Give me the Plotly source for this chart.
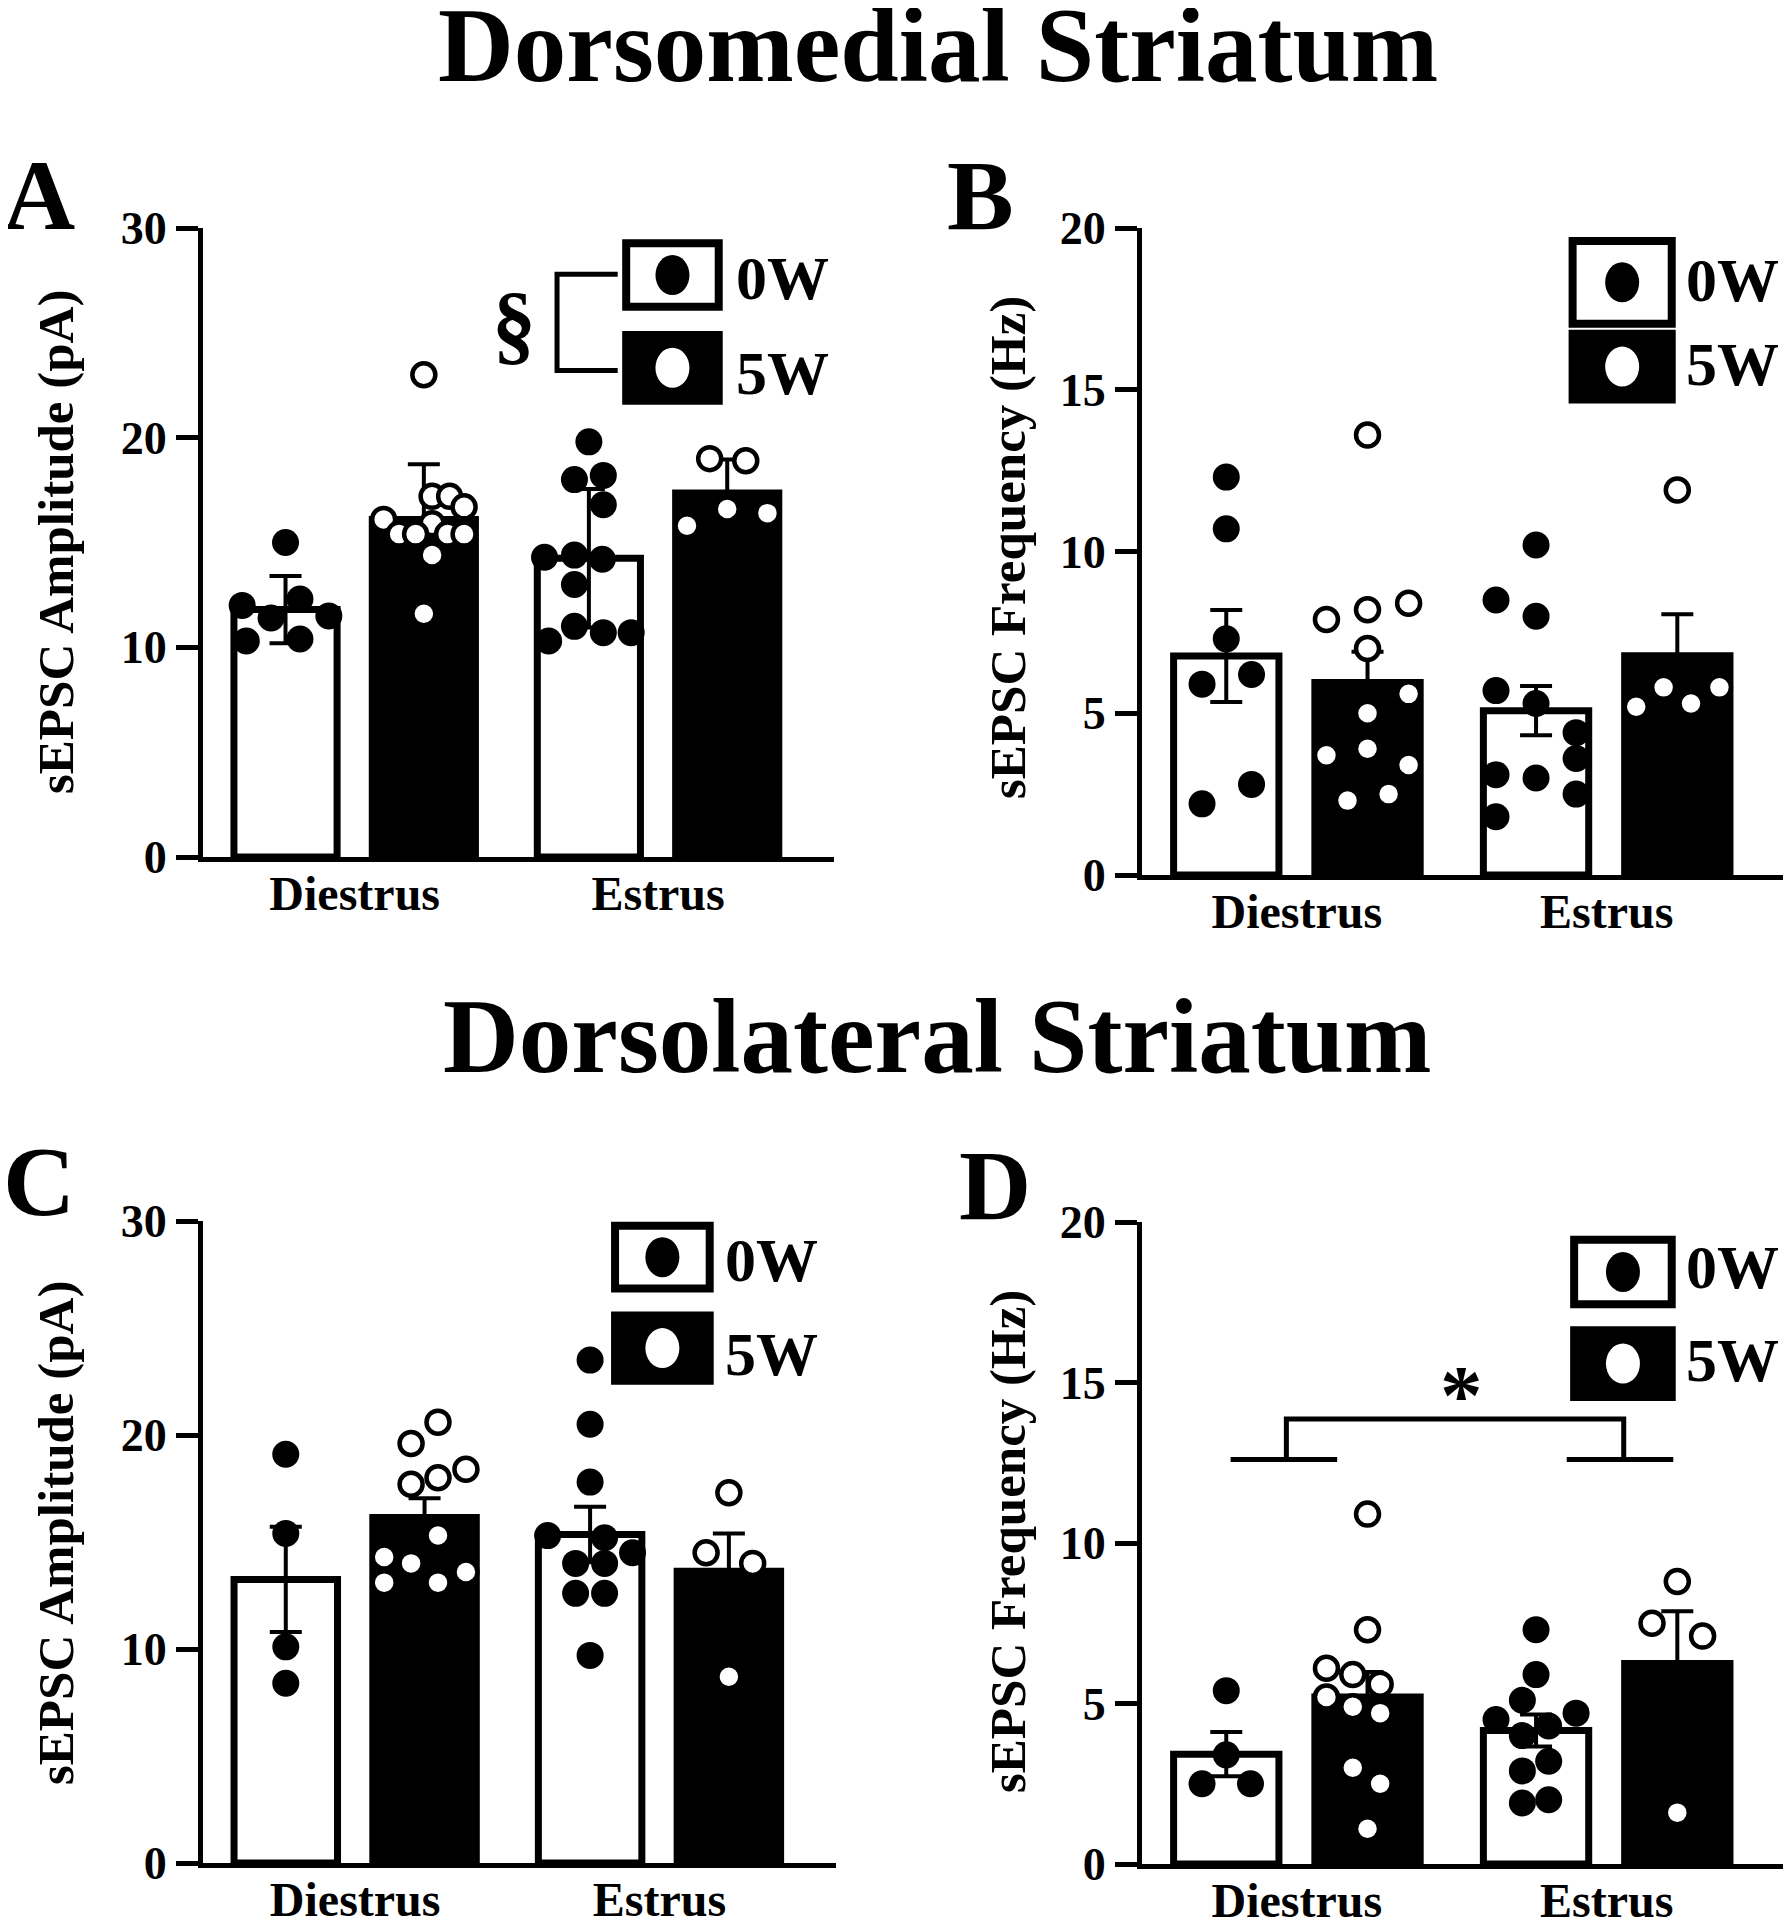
import plotly.graph_objects as go

W, H = 1791, 1920
OX, OY = 8, 8   # the page body margin shifts the figure by this much
FONT = "Liberation Serif, Times New Roman, serif"

groups = ["Diestrus", "Estrus"]

# bar means and error bars, order = [Diestrus, Estrus]
a_mean_0w = [11.8, 14.25]
a_err_0w = [1.6, 3.3]
a_mean_5w = [16.1, 17.36]
a_err_5w = [2.63, 1.6]

b_mean_0w = [6.77, 5.08]
b_err_0w = [1.42, 0.76]
b_mean_5w = [5.95, 6.78]
b_err_5w = [0.95, 1.28]

c_mean_0w = [13.25, 15.35]
c_err_0w = [2.46, 1.3]
c_mean_5w = [16.15, 13.63]
c_err_5w = [0.9, 1.77]

d_mean_0w = [3.42, 4.16]
d_err_0w = [0.69, 0.5]
d_mean_5w = [5.2, 6.25]
d_err_5w = [0.78, 1.62]

# individual cells
a_dies_0w = [15.0, 12.0, 12.3, 11.5, 11.4, 10.3, 10.4]
a_dies_5w = [23.0, 17.2, 17.2, 16.7, 16.1, 15.9, 15.4, 15.4, 15.4, 15.4, 14.4, 11.6]
a_estr_0w = [19.8, 18.0, 18.2, 16.8, 14.3, 14.4, 14.2, 13.0, 10.3, 11.0, 10.7, 10.7]
a_estr_5w = [19.0, 18.9, 15.8, 16.6, 16.4]

b_dies_0w = [12.3, 10.7, 7.3, 5.9, 6.2, 2.8, 2.2]
b_dies_5w = [13.6, 7.9, 8.2, 8.4, 7.0, 5.6, 5.0, 3.7, 3.9, 3.4, 2.3, 2.5]
b_estr_0w = [10.2, 8.5, 8.0, 5.7, 5.3, 3.0, 3.1, 1.8, 4.4, 3.6, 2.5]
b_estr_5w = [11.9, 5.2, 5.8, 5.3, 5.8]

c_dies_0w = [19.1, 15.4, 10.1, 8.4]
c_dies_5w = [20.6, 19.6, 18.4, 18.0, 17.7, 15.3, 14.3, 14.0, 13.6, 13.1, 13.1]
c_estr_0w = [23.5, 20.5, 17.8, 15.3, 15.2, 14.5, 14.0, 14.0, 12.6, 12.6, 9.7]
c_estr_5w = [17.3, 14.5, 14.0, 8.7]

d_dies_0w = [5.4, 3.4, 2.5, 2.5]
d_dies_5w = [10.9, 7.3, 6.1, 5.9, 5.6, 5.2, 4.9, 4.7, 3.0, 2.5, 1.1]
d_estr_0w = [7.3, 5.9, 5.1, 4.7, 4.5, 4.3, 4.0, 3.2, 2.9, 1.9, 2.0]
d_estr_5w = [8.8, 7.5, 7.1, 1.6]

# horizontal scatter of the dots inside each bar (fraction of bar width)
a_dies_0w_dx = [0, -0.42, 0.14, 0.42, -0.14, -0.38, 0.14]
a_dies_5w_dx = [0, 0.08, 0.25, 0.39, -0.39, 0.08, -0.24, -0.08, 0.23, 0.39, 0.08, 0]
a_estr_0w_dx = [0, -0.14, 0.14, 0.14, -0.43, -0.14, 0.13, -0.14, -0.39, -0.14, 0.14, 0.41]
a_estr_5w_dx = [-0.17, 0.18, -0.39, 0, 0.39]

b_dies_0w_dx = [0, 0, 0, -0.23, 0.24, 0.24, -0.23]
b_dies_5w_dx = [0, -0.39, 0, 0.39, 0, 0.39, 0, -0.39, 0, 0.39, -0.19, 0.2]
b_estr_0w_dx = [0, -0.38, 0, -0.38, 0, 0, -0.38, -0.38, 0.38, 0.38, 0.38]
b_estr_5w_dx = [0, -0.39, -0.13, 0.13, 0.4]

c_dies_0w_dx = [0, 0, 0, 0]
c_dies_5w_dx = [0.13, -0.13, 0.4, 0.13, -0.13, 0.13, -0.39, -0.13, 0.4, -0.39, 0.13]
c_estr_0w_dx = [0, 0, 0, -0.41, 0.14, 0.41, -0.14, 0.14, -0.14, 0.14, 0]
c_estr_5w_dx = [0, -0.22, 0.23, 0]

d_dies_0w_dx = [0, 0, -0.23, 0.23]
d_dies_5w_dx = [0, 0, -0.39, -0.14, 0.12, -0.39, -0.14, 0.12, -0.14, 0.12, 0]
d_estr_0w_dx = [0, 0, -0.13, 0.38, -0.38, 0.12, -0.13, 0.12, -0.13, -0.13, 0.12]
d_estr_5w_dx = [0, -0.24, 0.24, 0]

OFF = 0.228   # half distance between the two bars of a group
BW = 0.34     # bar width


def px(x):
    return (x - OX) / W


def py(y):
    return 1 - (y - OY) / H


fig = go.Figure()


def add_panel(n, m0, e0, m5, e5, p0, dx0, p5, dx5):
    xa = "x" if n == 1 else "x%d" % n
    ya = "y" if n == 1 else "y%d" % n
    fig.add_trace(go.Bar(
        x=[i - OFF for i in range(len(groups))], y=m0, width=BW,
        marker=dict(color="white", line=dict(color="black", width=7)),
        error_y=dict(type="data", array=e0, color="black", thickness=4, width=16),
        xaxis=xa, yaxis=ya, showlegend=False))
    fig.add_trace(go.Bar(
        x=[i + OFF for i in range(len(groups))], y=m5, width=BW,
        marker=dict(color="black", line=dict(color="black", width=7)),
        error_y=dict(type="data", array=e5, color="black", thickness=4, width=16),
        xaxis=xa, yaxis=ya, showlegend=False))
    xs0, ys0, xs5, ys5 = [], [], [], []
    for i in range(len(groups)):
        xs0 += [i - OFF + d * BW for d in dx0[i]]
        ys0 += p0[i]
        xs5 += [i + OFF + d * BW for d in dx5[i]]
        ys5 += p5[i]
    fig.add_trace(go.Scatter(
        x=xs0, y=ys0, mode="markers",
        marker=dict(color="black", size=27, line=dict(width=0)),
        xaxis=xa, yaxis=ya, showlegend=False))
    fig.add_trace(go.Scatter(
        x=xs5, y=ys5, mode="markers",
        marker=dict(color="white", size=23, line=dict(color="black", width=4.5)),
        xaxis=xa, yaxis=ya, showlegend=False))


add_panel(1, a_mean_0w, a_err_0w, a_mean_5w, a_err_5w,
          [a_dies_0w, a_estr_0w], [a_dies_0w_dx, a_estr_0w_dx],
          [a_dies_5w, a_estr_5w], [a_dies_5w_dx, a_estr_5w_dx])
add_panel(2, b_mean_0w, b_err_0w, b_mean_5w, b_err_5w,
          [b_dies_0w, b_estr_0w], [b_dies_0w_dx, b_estr_0w_dx],
          [b_dies_5w, b_estr_5w], [b_dies_5w_dx, b_estr_5w_dx])
add_panel(3, c_mean_0w, c_err_0w, c_mean_5w, c_err_5w,
          [c_dies_0w, c_estr_0w], [c_dies_0w_dx, c_estr_0w_dx],
          [c_dies_5w, c_estr_5w], [c_dies_5w_dx, c_estr_5w_dx])
add_panel(4, d_mean_0w, d_err_0w, d_mean_5w, d_err_5w,
          [d_dies_0w, d_estr_0w], [d_dies_0w_dx, d_estr_0w_dx],
          [d_dies_5w, d_estr_5w], [d_dies_5w_dx, d_estr_5w_dx])

# axes: (x domain px, y domain px top/bottom, x range end, y max, y step), page pixels
panels = [
    (1, (203, 834), (228, 857), 1.58, 30, 10),
    (2, (1142, 1791), (228, 875), 1.595, 20, 5),
    (3, (203, 836), (1221, 1863), 1.58, 30, 10),
    (4, (1142, 1791), (1222, 1864), 1.595, 20, 5),
]
axes = {}
for n, (x0, x1), (yt, yb), xend, ymax, step in panels:
    sfx = "" if n == 1 else str(n)
    axes["xaxis" + sfx] = dict(
        domain=[px(x0), min(px(x1), 1)], range=[-0.5, xend], anchor="y" + sfx,
        tickvals=list(range(len(groups))), ticktext=groups, ticks="",
        showline=True, linewidth=5, linecolor="black", showgrid=False, zeroline=False,
        automargin=False,
        tickfont=dict(family=FONT, size=48, color="black", weight="bold"),
        ticklabelstandoff=-10)
    axes["yaxis" + sfx] = dict(
        domain=[py(yb), py(yt)], range=[0, ymax], anchor="x" + sfx,
        tickvals=list(range(0, ymax + 1, step)), ticks="outside", ticklen=22,
        tickwidth=5, tickcolor="black", showline=True, linewidth=5, linecolor="black",
        showgrid=False, zeroline=False, automargin=False,
        tickfont=dict(family=FONT, size=46, color="black", weight="bold"))

shapes = []
annotations = []


def text(x, y, s, size, xref="paper", yref="paper", xanchor="center", angle=0):
    annotations.append(dict(
        x=x, y=y, xref=xref, yref=yref, text=s, showarrow=False, textangle=angle,
        xanchor=xanchor, yanchor="middle",
        font=dict(family=FONT, size=size, color="black", weight="bold")))


# legends, in each panel's data coordinates
legends = [
    (1, 0.895, 1.20, (29.27, 26.24), (24.9, 21.76), 1.25, (27.6, 23.1)),
    (2, 0.89, 1.21, (19.6, 17.04), (16.73, 14.7), 1.25, (18.4, 15.8)),
    (3, 0.854, 1.165, (29.78, 26.84), (25.58, 22.54), 1.21, (28.2, 23.8)),
    (4, 0.895, 1.21, (19.45, 17.44), (16.63, 14.55), 1.25, (18.6, 15.7)),
]
for n, bx0, bx1, (t0, b0), (t5, b5), tx, (ty0, ty5) in legends:
    xr = "x" if n == 1 else "x%d" % n
    yr = "y" if n == 1 else "y%d" % n
    shapes.append(dict(type="rect", xref=xr, yref=yr, x0=bx0, x1=bx1, y0=b0, y1=t0,
                       fillcolor="white", line=dict(color="black", width=8)))
    shapes.append(dict(type="rect", xref=xr, yref=yr, x0=bx0, x1=bx1, y0=b5, y1=t5,
                       fillcolor="black", line=dict(color="black", width=8)))
    cx = (bx0 + bx1) / 2
    for (yt, yb), col in [((t0, b0), "black"), ((t5, b5), "white")]:
        shapes.append(dict(type="circle", xref=xr, yref=yr, xsizemode="pixel", ysizemode="pixel",
                           xanchor=cx, yanchor=(yt + yb) / 2, x0=-17, x1=17, y0=-20, y1=20,
                           fillcolor=col, line=dict(width=0)))
    text(tx, ty0, "0W", 62, xr, yr, "left")
    text(tx, ty5, "5W", 62, xr, yr, "left")

# section bracket in panel A
shapes.append(dict(type="path", xref="x", yref="y",
                   path="M 0.867 27.8 L 0.667 27.8 L 0.667 23.2 L 0.867 23.2",
                   line=dict(color="black", width=5)))
text(0.524, 25.4, "§", 88, "x", "y")

# significance bracket in panel D
for path in ["M -0.214 12.6 L 0.13 12.6", "M 0.871 12.6 L 1.215 12.6",
             "M -0.034 12.6 L -0.034 13.86 L 1.055 13.86 L 1.055 12.6"]:
    shapes.append(dict(type="path", xref="x4", yref="y4", path=path,
                       line=dict(color="black", width=5)))
text(0.531, 14.6, "*", 85, "x4", "y4")

# titles and panel letters (page pixels)
text(px(938), py(45), "Dorsomedial Striatum", 105)
text(px(938), py(1036), "Dorsolateral Striatum", 105)
text(px(39), py(196), "A", 100)
text(px(980), py(196), "B", 100)
text(px(39), py(1181), "C", 100)
text(px(995), py(1185), "D", 100)

# y axis titles
text(px(56), py(542), "sEPSC Amplitude (pA)", 51, angle=-90)
text(px(1008), py(548), "sEPSC Frequency (Hz)", 51, angle=-90)
text(px(56), py(1533), "sEPSC Amplitude (pA)", 51, angle=-90)
text(px(1008), py(1542), "sEPSC Frequency (Hz)", 51, angle=-90)

fig.update_layout(
    width=W, height=H, margin=dict(l=0, r=0, t=0, b=0, autoexpand=False),
    paper_bgcolor="white", plot_bgcolor="white",
    barmode="overlay", shapes=shapes, annotations=annotations, **axes)

fig.write_html("out.html")
